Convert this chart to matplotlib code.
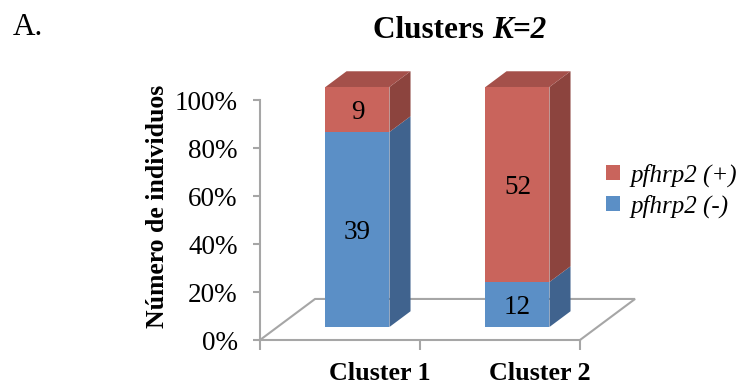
import matplotlib
matplotlib.use("Agg")
import matplotlib.pyplot as plt
from matplotlib.patches import Polygon, Patch
import numpy as np

# datos
clusters = ["Cluster 1", "Cluster 2"]
n_pos = [9, 52]     # pfhrp2 (+)
n_neg = [39, 12]    # pfhrp2 (-)
y_ticks = [0, 20, 40, 60, 80, 100]
y_labels = ["0%", "20%", "40%", "60%", "80%", "100%"]

SERIF = "Liberation Serif"
plt.rcParams["font.family"] = SERIF
FS = 19.5

# colores (frente, lado, tapa)
rojo = ("#C9645C", "#8C443E", "#A4504A")
azul = ("#5B8FC6", "#40638E", "#4A74A6")
gris = "#A6A6A6"

# profundidad del piso en unidades de datos
DX = 0.344
DY = 17.1
f0, f1 = 0.317, 0.70   # cara frontal / trasera de las barras
ancho = 0.4

fig = plt.figure(figsize=(7.44, 3.86), dpi=100)
ax = fig.add_axes([260 / 744, 46 / 386, 320 / 744, 240 / 386])
ax.set_xlim(0, 2)
ax.set_ylim(0, 100)
for s in ["top", "right"]:
    ax.spines[s].set_visible(False)
for s in ["left", "bottom"]:
    ax.spines[s].set_color(gris)
    ax.spines[s].set_linewidth(1.5)


def proy(x, y, d):
    return (x + d * DX, y + d * DY)


# piso
piso = [proy(0, 0, 0), proy(0, 0, 1), proy(2, 0, 1), proy(2, 0, 0)]
ax.add_patch(Polygon(piso, closed=False, fill=False, edgecolor=gris,
                     lw=1.5, clip_on=False, zorder=1))


def segmento(xc, y0, y1, col, tapa):
    x0, x1 = xc - ancho / 2, xc + ancho / 2
    frente = [proy(x0, y0, f0), proy(x1, y0, f0), proy(x1, y1, f0), proy(x0, y1, f0)]
    lado = [proy(x1, y0, f0), proy(x1, y0, f1), proy(x1, y1, f1), proy(x1, y1, f0)]
    arriba = [proy(x0, y1, f0), proy(x1, y1, f0), proy(x1, y1, f1), proy(x0, y1, f1)]
    kw = dict(closed=True, lw=0, clip_on=False, zorder=3)
    ax.add_patch(Polygon(lado, facecolor=col[1], **kw))
    if tapa:
        ax.add_patch(Polygon(arriba, facecolor=col[2], **kw))
    ax.add_patch(Polygon(frente, facecolor=col[0], **kw))


for i, (p, n) in enumerate(zip(n_pos, n_neg)):
    total = p + n
    xc = i + 0.5
    h_neg = 100 * n / total
    segmento(xc, 0, h_neg, azul, False)
    segmento(xc, h_neg, 100, rojo, True)
    tx, _ = proy(xc, 0, f0)
    ax.text(tx, h_neg / 2 + f0 * DY, str(n), ha="center", va="center_baseline",
            fontsize=FS, zorder=5, clip_on=False)
    ax.text(tx, (h_neg + 100) / 2 + f0 * DY, str(p), ha="center", va="center_baseline",
            fontsize=FS, zorder=5, clip_on=False)

# ejes
ax.set_yticks(y_ticks)
ax.set_yticklabels(y_labels, fontsize=FS)
ax.tick_params(axis="y", length=5, width=1.5, color=gris, pad=11)
ax.set_xticks([0, 1, 2])
ax.set_xticklabels([])
ax.tick_params(axis="x", which="major", length=7, width=1.5, color=gris)
ax.set_xticks([0.75, 1.75], minor=True)
ax.set_xticklabels(clusters, minor=True, fontsize=18.8, fontweight="bold")
ax.tick_params(axis="x", which="minor", length=0, pad=16)

ax.set_ylabel("Número de individuos", fontsize=18.5, fontweight="bold")
ax.yaxis.set_label_coords(-0.284, 0.558)

# titulo
fig.text(0.017, 0.909, "A.", fontsize=22.5, ha="left", va="baseline")
fig.text(0.661, 0.902, "Clusters ", fontsize=22.5, fontweight="bold",
         ha="right", va="baseline")
fig.text(0.661, 0.902, "K=2", fontsize=22.5, fontweight="bold",
         style="italic", ha="left", va="baseline")

# leyenda
h = [Patch(facecolor=rojo[0]), Patch(facecolor=azul[0])]
fig.legend(h, ["pfhrp2 (+)", "pfhrp2 (-)"], loc="upper left",
           bbox_to_anchor=(0.815, 0.577), frameon=False,
           prop={"family": SERIF, "style": "italic", "size": 18},
           handlelength=0.56, handleheight=0.55, handletextpad=0.4,
           labelspacing=0.3, borderaxespad=0, borderpad=0)

fig.savefig("out.png", dpi=100)
